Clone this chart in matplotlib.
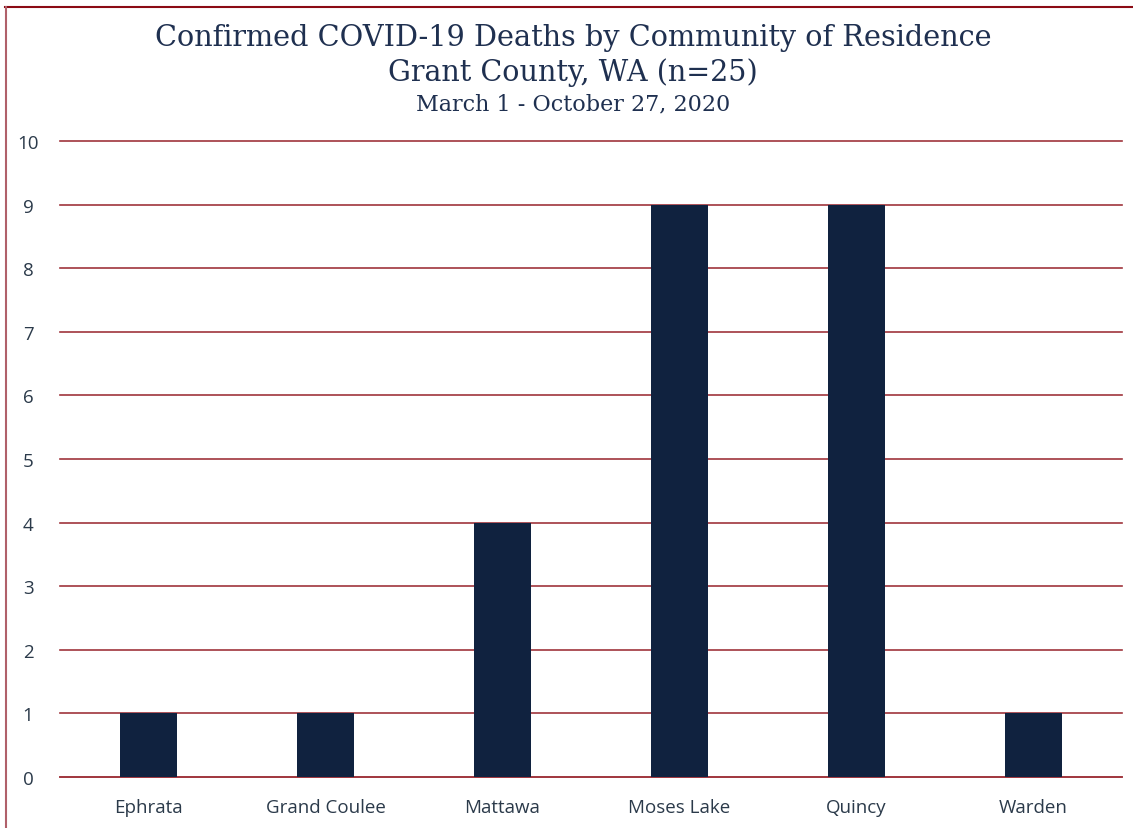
import matplotlib
matplotlib.use("Agg")
import matplotlib.pyplot as plt
import numpy as np

communities = ["Ephrata", "Grand Coulee", "Mattawa", "Moses Lake", "Quincy", "Warden"]
deaths = [1, 1, 4, 9, 9, 1]
yticks = [0, 1, 2, 3, 4, 5, 6, 7, 8, 9, 10]

title1 = "Confirmed COVID-19 Deaths by Community of Residence"
title2 = "Grant County, WA (n=25)"
title3 = "March 1 - October 27, 2020"

navy = "#10223F"
grid_red = "#A0353C"
text_col = "#1F3050"

fig = plt.figure(figsize=(11.33, 8.29), dpi=100)
ax = fig.add_axes([60/1133, 1 - 778/829, 1062/1133, (778 - 142)/829])

x = np.arange(len(communities))
ax.bar(x, deaths, width=0.32, color=navy, zorder=3)

ax.set_xlim(-0.5, len(communities) - 0.5)
ax.set_ylim(0, 10)
ax.set_yticks(yticks)
ax.set_xticks(x)
ax.set_xticklabels(communities)
ax.yaxis.grid(True, color=grid_red, lw=1.2, zorder=0)
ax.set_axisbelow(True)
for gl in ax.get_ygridlines():
    gl.set_clip_on(False)
for s in ["top", "right", "left"]:
    ax.spines[s].set_visible(False)
ax.spines["bottom"].set_color(grid_red)
ax.spines["bottom"].set_linewidth(1.2)
ax.tick_params(axis="both", length=0, labelsize=13.5, labelcolor="#2B3A4A")
ax.tick_params(axis="x", pad=15)
ax.tick_params(axis="y", pad=23)
for lbl in ax.get_xticklabels() + ax.get_yticklabels():
    lbl.set_fontfamily("Open Sans")
for lbl in ax.get_yticklabels():
    lbl.set_horizontalalignment("center")

# titles (centred slightly right of the figure middle, as in the original)
tx = 573 / 1133
fig.text(tx, 1 - 38/829, title1, ha="center", va="center", fontsize=20.7,
         family="DejaVu Serif", color=text_col)
fig.text(tx, 1 - 73/829, title2, ha="center", va="center", fontsize=20.6,
         family="DejaVu Serif", color=text_col)
fig.text(tx, 1 - 104/829, title3, ha="center", va="center", fontsize=16,
         family="DejaVu Serif", color=text_col)

# outer frame lines (top and left)
fig.add_artist(plt.Line2D([5/1133, 1], [1 - 8/829, 1 - 8/829], color="#8B0A14", lw=1.5))
fig.add_artist(plt.Line2D([6/1133, 6/1133], [0, 1 - 8/829], color="#B0606A", lw=1.5))

fig.savefig("out.png", dpi=100, facecolor="white")
